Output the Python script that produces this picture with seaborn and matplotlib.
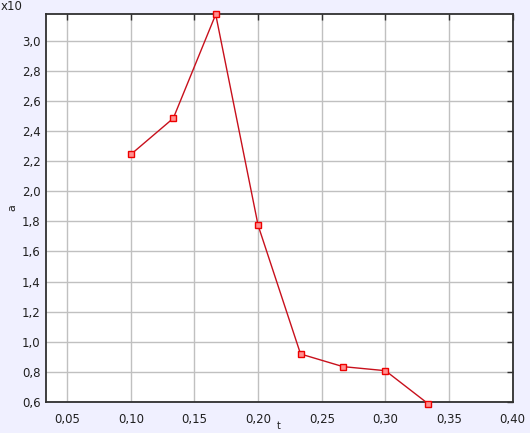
import matplotlib
matplotlib.use("Agg")
import matplotlib.pyplot as plt
import matplotlib.ticker as mticker
import seaborn as sns
import pandas as pd

t_values = [0.1, 0.13333, 0.16667, 0.2, 0.23333, 0.26667, 0.3, 0.33333]
a_values = [2.245, 2.485, 3.175, 1.773, 0.919, 0.835, 0.808, 0.59]
x_ticks = [0.05, 0.10, 0.15, 0.20, 0.25, 0.30, 0.35, 0.40]
y_ticks = [0.6, 0.8, 1.0, 1.2, 1.4, 1.6, 1.8, 2.0, 2.2, 2.4, 2.6, 2.8, 3.0]

df = pd.DataFrame({"t": t_values, "a": a_values})

sns.set_style("white")
plt.rcParams['font.family'] = ['DejaVu Sans']

fig = plt.figure(figsize=(5.30, 4.33), dpi=100, facecolor="#F0F0FF")
ax = fig.add_axes([46/530, 1 - 402/433, (512.7-46)/530, (402-14)/433])
ax.set_facecolor("white")

sns.lineplot(data=df, x="t", y="a", ax=ax, color="#C8101C", linewidth=1.0,
             marker="s", markersize=5, markerfacecolor="#FF9090",
             markeredgecolor="#EE0000", markeredgewidth=1.0, clip_on=False, zorder=5)

ax.set_xlim(1/30, 0.4)
ax.set_ylim(0.6, 3.178)
ax.set_xticks(x_ticks)
ax.set_yticks(y_ticks)
fmt = lambda v, p, d: f"{v:.{d}f}".replace(".", ",")
ax.xaxis.set_major_formatter(mticker.FuncFormatter(lambda v, p: fmt(v, p, 2)))
ax.yaxis.set_major_formatter(mticker.FuncFormatter(lambda v, p: fmt(v, p, 1)))
ax.grid(True, color="#C0C0C0", linewidth=1.0)
ax.set_axisbelow(True)
ax.tick_params(direction="in", length=4, width=1, color="#303030",
               labelsize=8.5, labelcolor="#202020", top=True, right=True, pad=8)
ax.tick_params(axis="y", pad=4)
for s in ax.spines.values():
    s.set_color("#303030")
    s.set_linewidth(1.3)
    s.set_visible(True)

ax.set_xlabel("t", fontsize=7, color="#202020", va="center")
ax.xaxis.set_label_coords((279-46)/(512.7-46), -(426-402)/388, transform=ax.transAxes)
ax.set_ylabel("a", fontsize=8, color="#202020", va="center")
ax.yaxis.set_label_coords(-(46-12)/(466.7), 0.5)

fig.text(0.5/530, 1 - 6/433, "x10", fontsize=8.5, color="#202020", va="center", ha="left")

fig.savefig("out.png", dpi=100, facecolor=fig.get_facecolor())
